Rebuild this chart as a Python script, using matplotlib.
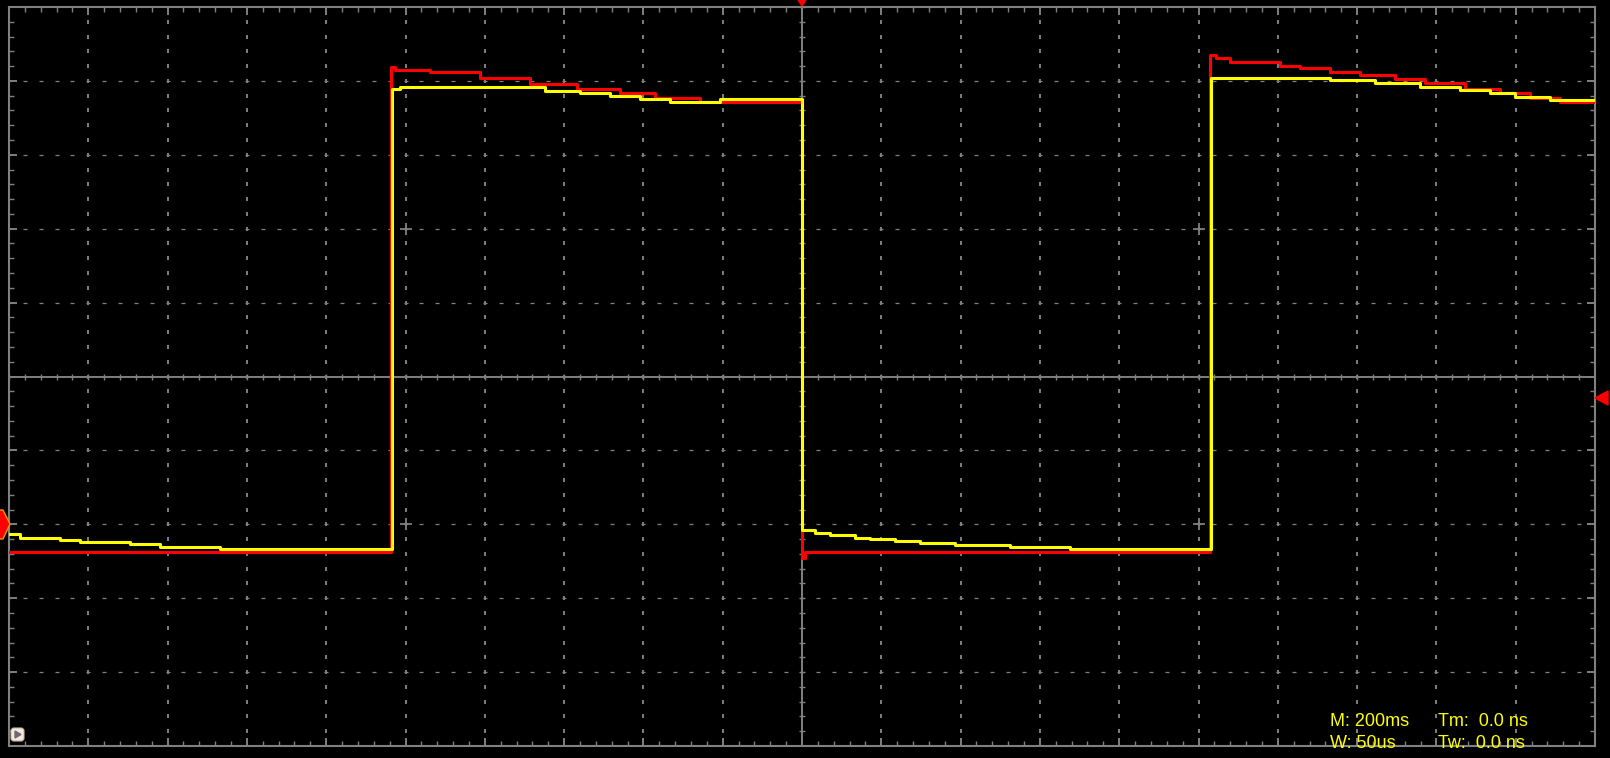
import numpy as np
import matplotlib.pyplot as plt
from matplotlib.patches import Polygon, FancyBboxPatch
from matplotlib.transforms import Affine2D

W, H = 1610, 758
gray = '#808080'

# traces in screen divisions (x: 0..20, y: -5..5), each level held until the next x
yel_x = [0, 0.14, 0.64, 0.90, 1.53, 1.90, 2.66, 4.83, 4.93, 6.76, 7.20, 7.58, 7.96, 8.34, 8.97,
         10.0, 10.16, 10.35, 10.67, 10.86, 11.17, 11.49, 11.93, 12.62, 13.38,
         15.16, 16.66, 17.23, 17.79, 18.30, 18.67, 18.99, 19.43, 20.0]
yel_y = [-2.13, -2.18, -2.21, -2.24, -2.27, -2.31, -2.34, 3.89, 3.92, 3.86, 3.83, 3.80, 3.75, 3.72, 3.75,
         -2.08, -2.12, -2.14, -2.18, -2.20, -2.22, -2.25, -2.28, -2.31, -2.34,
         4.04, 4.01, 3.97, 3.92, 3.88, 3.84, 3.78, 3.74, 3.74]

red_x = [0, 4.82, 4.87, 5.31, 5.94, 6.57, 7.16, 7.70, 8.15, 8.71,
         10.0, 10.04,
         15.15, 15.22, 15.40, 16.03, 16.28, 16.66, 17.04, 17.48, 17.86, 18.36, 18.80, 19.18, 19.56, 20.0]
red_y = [-2.37, 4.19, 4.15, 4.12, 4.04, 3.96, 3.89, 3.83, 3.77, 3.72,
         -2.45, -2.37,
         4.35, 4.31, 4.26, 4.20, 4.17, 4.12, 4.08, 4.03, 3.97, 3.89, 3.83, 3.77, 3.72, 3.72]

readout = [('M: 200ms', 'Tm:  0.0 ns'), ('W: 50us', 'Tw:  0.0 ns')]

fig = plt.figure(figsize=(W / 100, H / 100), dpi=100, facecolor='black')
ax = fig.add_axes([9 / W, (H - 746) / H, 1586 / W, 739 / H], facecolor='black')
px = Affine2D().scale(1 / W, -1 / H).translate(0, 1) + fig.transFigure  # pixel coords, origin top-left

ax.set_xlim(0, 20)
ax.set_ylim(-5, 5)

# dotted graticule
minor_x = np.arange(0, 20.001, 0.2)
minor_y = np.arange(-5, 5.001, 0.2)
for gx in range(1, 20):
    if gx != 10:
        ax.plot(np.full_like(minor_y, gx), minor_y, ls='none', marker='|', ms=2.3, mew=1.4, color=gray)
for gy in range(-4, 5):
    if gy != 0:
        ax.plot(minor_x, np.full_like(minor_x, gy), ls='none', marker='_', ms=3, mew=0.9, color=gray)

# centre axes with ticks
ax.axhline(0, color=gray, lw=1.4)
ax.axvline(10, color=gray, lw=1.4)
ax.plot(minor_x, np.zeros_like(minor_x), ls='none', marker='|', ms=4.5, mew=1, color=gray)
ax.plot(np.full_like(minor_y, 10), minor_y, ls='none', marker='_', ms=4.5, mew=1, color=gray)
ax.plot([5, 5, 15, 15], [2, -2, 2, -2], ls='none', marker='+', ms=9, mew=1.3, color=gray)

for s in ax.spines.values():
    s.set_color(gray)
    s.set_linewidth(1.5)
ax.set_xticks(range(21))
ax.set_yticks(range(-5, 6))
ax.set_xticks(minor_x, minor=True)
ax.set_yticks(minor_y, minor=True)
ax.tick_params(which='major', direction='in', length=6, width=1.4, color=gray,
               top=True, right=True, labelbottom=False, labelleft=False)
ax.tick_params(which='minor', direction='in', length=3.5, width=1, color=gray, top=True, right=True)

# traces
ax.plot(red_x, red_y, drawstyle='steps-post', color='#ff0000', lw=2.2, zorder=5)
ax.plot(yel_x, yel_y, drawstyle='steps-post', color='#ffff00', lw=2.2, zorder=6)

# markers around the screen
fig.patches.append(Polygon([(798, 0), (806, 0), (802, 6)], closed=True, color='#ff0000', transform=px))
fig.patches.append(Polygon([(1595, 398), (1608, 391), (1608, 405)], closed=True, color='#ff0000', transform=px))
fig.patches.append(Polygon([(-2, 510), (3, 510), (10, 524), (3, 539), (-2, 539)], closed=True,
                           facecolor='#ff0000', edgecolor='#e0a000', lw=1, transform=px))
fig.patches.append(FancyBboxPatch((11, 728), 13, 13, boxstyle='round,pad=0,rounding_size=3',
                                  facecolor='#f5e8dc', edgecolor='#c8b8a8', lw=0.8, transform=px))
fig.patches.append(Polygon([(15, 731), (15, 738), (21, 734.5)], closed=True, color='#706878', transform=px))

for i, (a, b) in enumerate(readout):
    y = 726 + 22 * i
    fig.text(1330, y, a, transform=px, color='#ffff00', fontsize=13, family='Liberation Sans', va='baseline', zorder=10)
    fig.text(1438, y, b, transform=px, color='#ffff00', fontsize=13, family='Liberation Sans', va='baseline', zorder=10)

fig.savefig('out.png', dpi=100, facecolor='black')
